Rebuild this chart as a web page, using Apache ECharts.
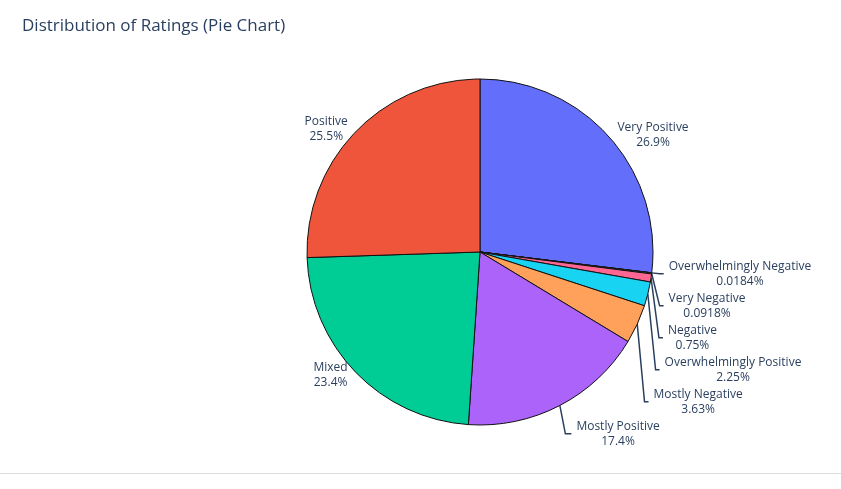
<!DOCTYPE html>
<html>
<head>
<meta charset="utf-8">
<script src="https://cdn.jsdelivr.net/npm/echarts@6/dist/echarts.min.js"></script>
<style>
  html, body { margin: 0; padding: 0; background: #fff; }
  #chart { width: 841px; height: 473px; border-bottom: 1px solid #dcdcdc; }
</style>
</head>
<body>
<div id="chart"></div>
<script>
// slices in clockwise order from 12 o'clock
const categories = [
  "Very Positive", "Overwhelmingly Negative", "Very Negative", "Negative",
  "Overwhelmingly Positive", "Mostly Negative", "Mostly Positive", "Mixed", "Positive"
];
const percents = [26.9, 0.0184, 0.0918, 0.75, 2.25, 3.63, 17.4, 23.4, 25.5];
const colors = [
  "#636efa", "#FF97FF", "#B6E880", "#FF6692",
  "#19d3f3", "#FFA15A", "#ab63fa", "#00cc96", "#EF553B"
];

const FONT = "'Open Sans', 'Noto Sans', sans-serif";
const TXT = "#2a3f5f";

const data = categories.map((name, i) => {
  const item = {
    name: name,
    value: percents[i],
    itemStyle: { color: colors[i] }
  };
  if (percents[i] > 18) {
    // the big slices carry their label without a leader line, a bit closer in
    item.labelLine = { show: false, length: 4, length2: 0 };
  } else if (percents[i] < 5) {
    // the thin slices line their labels up in one column
    item.label = { alignTo: "labelLine" };
    item.labelLine = { length: 8, length2: 4 };
  }
  return item;
});

const chart = echarts.init(document.getElementById("chart"));
chart.setOption({
  animation: false,
  title: {
    text: "Distribution of Ratings (Pie Chart)",
    left: 17, top: 13,
    textStyle: { fontFamily: FONT, fontSize: 17, fontWeight: "normal", color: TXT }
  },
  series: [{
    type: "pie",
    center: [480, 252],
    radius: [0, 173],
    startAngle: 90,
    clockwise: true,
    avoidLabelOverlap: true,
    itemStyle: { borderColor: "#111", borderWidth: 1 },
    label: {
      position: "outside",
      fontFamily: FONT,
      fontSize: 12,
      color: TXT,
      lineHeight: 15,
      formatter: p => "{n|" + p.name + "}\n{n|" +
        Number(p.value).toPrecision(3).replace(/\.?0+$/, "") + "%}",
      rich: { n: { fontFamily: FONT, fontSize: 12, color: TXT, lineHeight: 15, align: "center" } }
    },
    labelLine: {
      length: 12, length2: 6,
      lineStyle: { color: TXT, width: 1.5 }
    },
    data: data
  }]
});
</script>
</body>
</html>
